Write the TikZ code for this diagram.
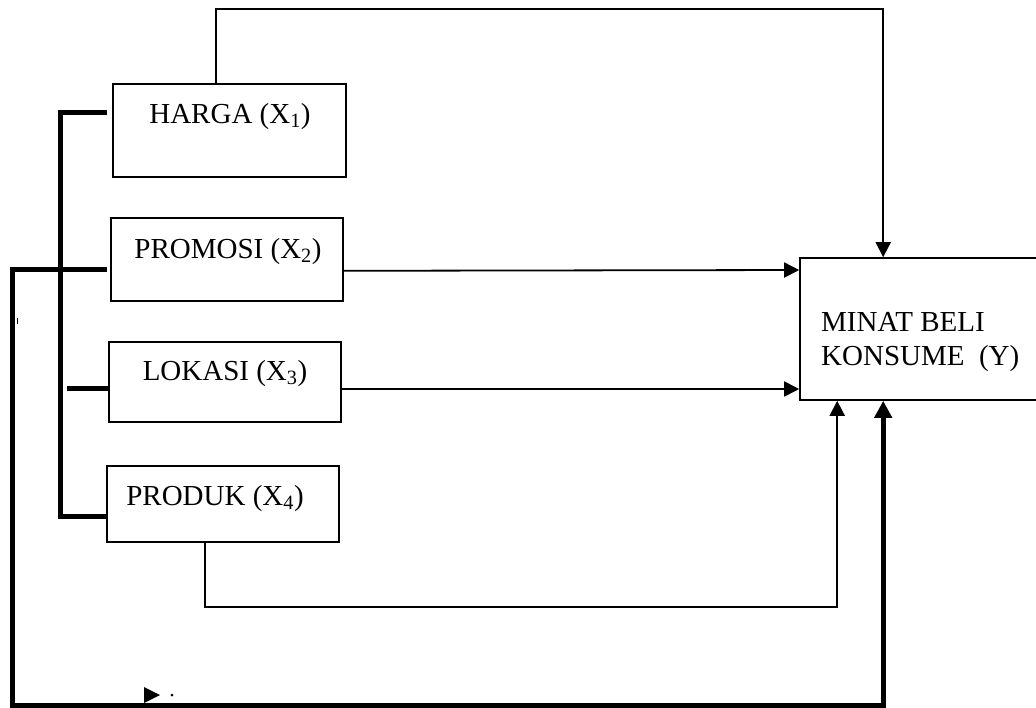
\documentclass[tikz,border=0pt]{standalone}
\usepackage{fontspec}
\setmainfont{Liberation Serif}
\usetikzlibrary{arrows.meta,calc}
\tikzset{
  box/.style={draw,line width=1.6pt,rectangle,inner sep=0pt},
  lbl/.style={anchor=base,inner sep=0pt,font=\fontsize{29}{33}\selectfont},
  thin/.style={line width=1.8pt},
  thick/.style={line width=5pt},
  arr/.style={-{Triangle[length=15pt,width=15pt]}},
  arrthick/.style={-{Triangle[length=17pt,width=17pt]}}
}
\begin{document}
\begin{tikzpicture}[x=1pt,y=-1pt]
\useasboundingbox (0,0) rectangle (1036,707);
\clip (0,0) rectangle (1036,707);
% boxes
\node[box,minimum width=233pt,minimum height=93pt] (harga) at (229.5,130.5) {};
\node[box,minimum width=232pt,minimum height=83pt] (promosi) at (227,259.5) {};
\node[box,minimum width=232pt,minimum height=80pt] (lokasi) at (225,382) {};
\node[box,minimum width=232pt,minimum height=76pt] (produk) at (223,504) {};
\node[box,minimum width=250pt,minimum height=142pt] (minat) at (925,329) {};
% texts
\node[lbl] (hargaT) at (230,123) {HARGA (X\textsubscript{1})};
\node[lbl] (promosiT) at (228,258) {PROMOSI (X\textsubscript{2})};
\node[lbl] (lokasiT) at (225,380) {LOKASI (X\textsubscript{3})};
\node[lbl] (produkT) at (215,505) {PRODUK (X\textsubscript{4})};
\node[lbl,anchor=base west] (minatT1) at (821,331) {MINAT BELI};
\node[lbl,anchor=base west] (minatT2) at (821,365) {KONSUME\ \ (Y)};
% coordinates
\coordinate (hTop) at ($(harga.north west)+(104,0)$);
\coordinate (yTop) at ($(minat.north west)+(84,0)$);
\coordinate (yBotA) at ($(minat.south west)+(38,0)$);
\coordinate (yBotB) at ($(minat.south west)+(84,0)$);
\coordinate (pBot) at ($(produk.south west)+(99,0)$);
% thin connectors
\draw[thin,arr] (hTop) -- (hTop |- 0,9) -- (yTop |- 0,9) -- (yTop);
\draw[thin,arr] ($(promosi.south east)+(0,-31)$) -- (minat.west |- 0,270);
\draw[thin,arr] ($(lokasi.east)+(0,7)$) -- (minat.west |- 0,389);
\draw[thin,arr] (pBot) -- (pBot |- 0,607) -- (yBotA |- 0,607) -- (yBotA);
% thick bracket
\draw[thick] ($(harga.west)+(-5,-18.5)$) -- (60,112) -- (60,516) -- (produk.west |- 0,516);
\draw[thick] (67,388) -- ($(lokasi.west)+(0,6)$);
% thick loop
\draw[thick,arrthick] ($(promosi.west)+(-3,9.5)$) -- (12,269) -- (12,705) -- (yBotB |- 0,705) -- (yBotB);
% small marks
\fill (144,687) -- (160,695) -- (144,703) -- cycle;
\fill (172,695) circle (1.5pt);
\draw[line width=1pt] (17,318) -- (17,324);
\end{tikzpicture}
\end{document}
